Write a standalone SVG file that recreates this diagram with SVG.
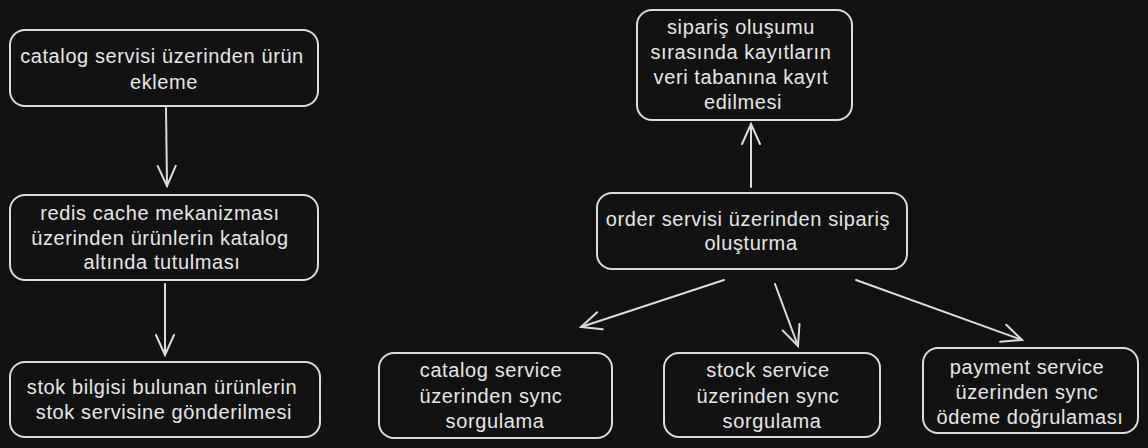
<svg xmlns="http://www.w3.org/2000/svg" width="1148" height="448" viewBox="0 0 1148 448">
<defs>
<style>
.box{fill:#121212;stroke:#dcdcdc;stroke-width:2}
.t{fill:#e6e6e6;font-family:"Liberation Sans",Arial,sans-serif;font-size:20px;letter-spacing:0.6px;text-anchor:middle;dominant-baseline:central}
.c{fill:none;stroke:#dcdcdc;stroke-width:2;stroke-linecap:round}
</style>
<marker id="ah" viewBox="0 0 24 24" refX="22" refY="12" markerWidth="24" markerHeight="24" markerUnits="userSpaceOnUse" orient="auto">
<path d="M2,3 L22,12 L2,21" fill="none" stroke="#dcdcdc" stroke-width="2" stroke-linecap="round"/>
</marker>
</defs>
<rect width="1148" height="448" fill="#121212"/>
<g id="connectors">
<line class="c" x1="166" y1="108" x2="167" y2="186" marker-end="url(#ah)"/>
<line class="c" x1="165" y1="284" x2="165" y2="355" marker-end="url(#ah)"/>
<line class="c" x1="751" y1="187" x2="751" y2="124" marker-end="url(#ah)"/>
<line class="c" x1="724" y1="280" x2="581" y2="327" marker-end="url(#ah)"/>
<line class="c" x1="775" y1="284" x2="798" y2="346" marker-end="url(#ah)"/>
<line class="c" x1="856" y1="280" x2="1022" y2="340" marker-end="url(#ah)"/>
</g>
<g id="n1">
<rect class="box" x="10" y="30" width="308" height="76" rx="15"/>
<text class="t" x="162" y="56">catalog servisi üzerinden ürün</text>
<text class="t" x="164" y="82">ekleme</text>
</g>
<g id="n2">
<rect class="box" x="10" y="195" width="308" height="85" rx="15"/>
<text class="t" x="160" y="213">redis cache mekanizması</text>
<text class="t" x="160" y="238">üzerinden ürünlerin katalog</text>
<text class="t" x="162" y="262">altında tutulması</text>
</g>
<g id="n3">
<rect class="box" x="10" y="362" width="310" height="75" rx="15"/>
<text class="t" x="162" y="387">stok bilgisi bulunan ürünlerin</text>
<text class="t" x="164" y="412">stok servisine gönderilmesi</text>
</g>
<g id="n4">
<rect class="box" x="637" y="10" width="215" height="110" rx="15"/>
<text class="t" x="741" y="27">sipariş oluşumu</text>
<text class="t" x="741" y="52">sırasında kayıtların</text>
<text class="t" x="741" y="77">veri tabanına kayıt</text>
<text class="t" x="743" y="102">edilmesi</text>
</g>
<g id="n5">
<rect class="box" x="597" y="193" width="310" height="76" rx="15"/>
<text class="t" x="748" y="219">order servisi üzerinden sipariş</text>
<text class="t" x="751" y="243">oluşturma</text>
</g>
<g id="n6">
<rect class="box" x="379" y="353" width="233" height="85" rx="15"/>
<text class="t" x="491" y="370">catalog service</text>
<text class="t" x="491" y="396">üzerinden sync</text>
<text class="t" x="495" y="421">sorgulama</text>
</g>
<g id="n7">
<rect class="box" x="664" y="353" width="216" height="84" rx="15"/>
<text class="t" x="768" y="370">stock service</text>
<text class="t" x="768" y="396">üzerinden sync</text>
<text class="t" x="772" y="421">sorgulama</text>
</g>
<g id="n8">
<rect class="box" x="923" y="348" width="215" height="85" rx="15"/>
<text class="t" x="1027" y="367">payment service</text>
<text class="t" x="1027" y="392">üzerinden sync</text>
<text class="t" x="1030" y="417">ödeme doğrulaması</text>
</g>
</svg>
